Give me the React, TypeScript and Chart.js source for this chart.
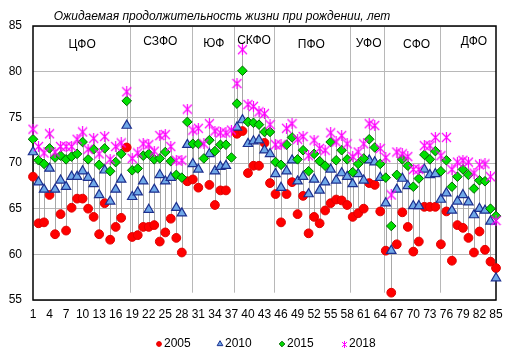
import React, { useEffect, useRef } from "react";
import { Chart, registerables } from "chart.js";

Chart.register(...registerables);

const FONT = 'Arial, "Liberation Sans", sans-serif';

const TITLE = "Ожидаемая продолжительность жизни при рождении, лет";
const CATEGORIES = Array.from({ length: 85 }, (_, i) => String(i + 1));
const X_TICK_STEP = 3;
const SERIES_NAMES = ["2005", "2010", "2015", "2018"];

const S2005 = [
  68.5, 63.4, 63.5, 66.5, 62.2, 64.4, 62.6, 65.1, 66.1, 66.1,
  65.0, 64.1, 62.2, 65.6, 61.6, 63.0, 64.0, 71.7, 61.9, 62.1,
  63.0, 63.0, 63.2, 61.4, 62.4, 63.9, 61.8, 60.2, 68.0, 68.2,
  67.3, null, 67.6, 65.4, 67.0, 67.0, null, 73.2, 73.5, 68.9,
  69.7, 69.7, 72.2, 67.8, 66.6, 63.5, 66.6, 67.9, 64.4, 66.4,
  62.3, 64.1, 63.4, 64.8, 65.6, 66.0, 65.9, 65.4, 64.1, 64.5,
  65.0, 67.8, 67.6, 64.7, 60.4, 55.8, 61.1, 64.6, 63.0, 60.3,
  61.4, 65.2, 65.2, 65.2, 61.1, 64.7, 59.3, 63.2, 62.9, 61.8,
  60.2, 62.5, 60.5, 59.2, 58.5,
];

const S2010 = [
  71.2, 67.9, 67.1, 69.4, 67.1, 68.1, 67.4, 68.5, 68.5, 69.1,
  68.4, 67.7, 66.5, 69.2, 65.8, 67.1, 68.2, 74.1, 66.3, 66.8,
  68.0, 64.9, 67.1, 68.7, 68.0, 68.4, 65.1, 64.5, 72.0, 69.9,
  69.3, null, 71.0, 69.1, 69.6, 69.7, null, 73.9, 74.7, 72.1,
  72.4, 72.5, 71.4, 71.0, 68.8, 67.3, 69.1, 70.3, 68.0, 68.5,
  66.6, 68.2, 67.0, 67.9, 69.3, 68.1, 68.9, 68.5, 67.7, 68.8,
  68.1, 70.3, 70.1, 68.4, 65.6, 60.4, 67.1, 68.3, 67.5, 65.3,
  65.3, 69.3, 68.7, 68.8, 66.0, 66.7, 64.8, 65.8, 66.5, 65.7,
  64.3, 65.0, 64.8, 63.6, 57.4,
];

const S2015 = [
  72.6, 70.3, 69.9, 71.6, 70.6, 70.8, 70.4, 70.7, 71.0, 72.3,
  70.4, 71.5, 69.8, 71.6, 69.1, 70.1, 71.0, 76.8, 69.2, 69.4,
  70.8, 71.0, 70.4, 70.5, 71.2, 70.2, 68.7, 68.4, 74.5, 72.1,
  72.1, 70.5, 72.5, 71.3, 72.0, 72.0, 70.6, 76.5, 80.1, 74.5,
  74.4, 74.2, 73.4, 73.4, 70.1, 69.8, 72.0, 72.8, 70.4, 71.4,
  69.1, 71.0, 70.2, 69.7, 72.3, 70.3, 71.4, 70.4, 69.0, 69.9,
  70.5, 72.6, 71.7, 69.9, 68.4, 63.1, 68.7, 70.4, 69.7, 67.4,
  68.3, 70.9, 70.4, 71.3, 69.1, 70.3, 67.4, 68.5, 69.3, 68.7,
  67.2, 68.1, 68.0, 65.0, 64.2,
];

const S2018 = [
  73.7, 71.8, 71.1, 73.2, 71.2, 71.8, 71.8, 71.8, 72.6, 73.4,
  71.5, 72.7, 71.0, 72.9, 70.4, 71.8, 72.2, 77.8, 70.5, 71.1,
  72.1, 72.0, 71.3, 73.0, 73.1, 71.8, 70.3, 70.3, 75.9, 73.6,
  73.8, 72.1, 74.3, 73.5, 73.3, 73.3, 73.6, 78.7, 82.4, 76.4,
  76.2, 75.6, 75.4, 74.2, 72.0, 72.0, 73.8, 74.3, 72.6, 72.9,
  70.8, 72.5, 71.6, 71.4, 73.3, 72.3, 73.0, 72.1, 70.7, 71.2,
  72.1, 74.3, 74.1, 71.6, 70.6, 66.5, 71.2, 71.0, 70.7, 69.3,
  69.3, 71.9, 71.9, 72.8, 70.8, 72.8, 69.3, 70.1, 70.3, 70.1,
  68.9, 69.8, 69.9, 68.5, 63.7,
];

const SERIES = [S2005, S2010, S2015, S2018];

const Y_MIN = 55;
const Y_MAX = 85;
const Y_STEP = 5;

const DISTRICTS = ["ЦФО", "СЗФО", "ЮФ", "СКФО", "ПФО", "УФО", "СФО", "ДФО"];
// label anchor: category number and value level
const DISTRICT_LABEL_AT = [9.9, 24.1, 33.8, 41.1, 51.5, 61.9, 70.6, 81.0];
const DISTRICT_LABEL_LEVEL = [82.9, 83.25, 83.1, 83.35, 82.9, 83.1, 83.0, 83.25];
// separators between districts, in category numbers
const DISTRICT_BOUNDARIES = [18.67, 29.85, 37.4, 44.8, 58.5, 64.6, 74.85];
const SEPARATOR_BOTTOM = 55.8;

// styles (kept apart from data)
const MARKER_KIND = ["circle", "triangle", "rectRot", "star"];
const MARKER_FILL = ["#ff0000", "#6fa8e8", "#00e000", "#ff00ff"];
const MARKER_STROKE = ["#e00000", "#1c2f8f", "#006400", "#ff00ff"];
const MARKER_RADIUS = [4.4, 5.4, 4.8, 5];
const LEGEND_RADIUS = [2.4, 3.3, 2.8, 0];
const LEGEND_X = [159, 220, 282, 344];
const LEGEND_Y = 344;
const GRID_COLOR = "#b8b8b8";
const HILO_COLOR = "#a8a8a8";

function makeStar(size: number, color: string, lw: number) {
  const c = document.createElement("canvas");
  c.width = size;
  c.height = size;
  const g = c.getContext("2d")!;
  g.strokeStyle = color;
  g.lineWidth = lw;
  g.beginPath();
  g.moveTo(size / 2, 0);
  g.lineTo(size / 2, size);
  g.moveTo(1, 1);
  g.lineTo(size - 1, size - 1);
  g.moveTo(size - 1, 1);
  g.lineTo(1, size - 1);
  g.stroke();
  return c;
}

function drawMarker(
  ctx: CanvasRenderingContext2D,
  kind: string,
  x: number,
  y: number,
  r: number,
  fill: string,
  stroke: string,
  img: HTMLCanvasElement
) {
  if (kind === "star") {
    ctx.drawImage(img, Math.round(x - img.width / 2), Math.round(y - img.height / 2));
    return;
  }
  ctx.beginPath();
  if (kind === "circle") {
    ctx.arc(x, y, r, 0, Math.PI * 2);
  } else if (kind === "triangle") {
    ctx.moveTo(x, y - r);
    ctx.lineTo(x + r * 0.866, y + r * 0.5);
    ctx.lineTo(x - r * 0.866, y + r * 0.5);
    ctx.closePath();
  } else {
    ctx.moveTo(x, y - r);
    ctx.lineTo(x + r, y);
    ctx.lineTo(x, y + r);
    ctx.lineTo(x - r, y);
    ctx.closePath();
  }
  ctx.fillStyle = fill;
  ctx.fill();
  ctx.strokeStyle = stroke;
  ctx.lineWidth = 1;
  ctx.stroke();
}

export default function App() {
  const ref = useRef<HTMLCanvasElement>(null);

  useEffect(() => {
    document.body.style.margin = "0";
    const canvas = ref.current!;
    const star = makeStar(11, "#ff00ff", 1.2);
    const starSmall = makeStar(7, "#ff00ff", 1);

    const decor = {
      id: "decor",
      beforeDatasetsDraw(chart: any) {
        const { ctx, chartArea, scales } = chart;
        const x = scales.x;
        const y = scales.y;
        ctx.save();
        // district separators
        ctx.strokeStyle = GRID_COLOR;
        ctx.lineWidth = 1;
        DISTRICT_BOUNDARIES.forEach((b) => {
          const px = Math.round(x.getPixelForValue(b - 1)) + 0.5;
          ctx.beginPath();
          ctx.moveTo(px, chartArea.top);
          ctx.lineTo(px, y.getPixelForValue(SEPARATOR_BOTTOM));
          ctx.stroke();
        });
        // high-low lines
        ctx.strokeStyle = HILO_COLOR;
        CATEGORIES.forEach((_, i) => {
          const vals = SERIES.map((s) => s[i]).filter(
            (v) => v !== null && v !== undefined
          ) as number[];
          if (vals.length < 2) return;
          const px = Math.round(x.getPixelForValue(i)) + 0.5;
          ctx.beginPath();
          ctx.moveTo(px, y.getPixelForValue(Math.max(...vals)));
          ctx.lineTo(px, y.getPixelForValue(Math.min(...vals)));
          ctx.stroke();
        });
        // plot box
        ctx.strokeStyle = "#000";
        ctx.lineWidth = 1.5;
        ctx.strokeRect(
          chartArea.left,
          chartArea.top,
          chartArea.right - chartArea.left,
          chartArea.bottom - chartArea.top
        );
        ctx.restore();
      },
      afterDraw(chart: any) {
        const { ctx, scales } = chart;
        const x = scales.x;
        const y = scales.y;
        ctx.save();
        ctx.fillStyle = "#000";
        ctx.textBaseline = "middle";
        ctx.textAlign = "center";
        ctx.font = `12px ${FONT}`;
        DISTRICTS.forEach((name, i) => {
          ctx.fillText(
            name,
            x.getPixelForValue(DISTRICT_LABEL_AT[i] - 1),
            y.getPixelForValue(DISTRICT_LABEL_LEVEL[i])
          );
        });
        ctx.font = `italic 12px ${FONT}`;
        ctx.fillText(TITLE, 222, 17);
        // legend
        ctx.font = `12px ${FONT}`;
        ctx.textAlign = "left";
        SERIES_NAMES.forEach((name, i) => {
          drawMarker(
            ctx,
            MARKER_KIND[i],
            LEGEND_X[i],
            LEGEND_Y,
            LEGEND_RADIUS[i],
            MARKER_FILL[i],
            MARKER_STROKE[i],
            starSmall
          );
          ctx.fillStyle = "#000";
          ctx.fillText(name, LEGEND_X[i] + 5, LEGEND_Y);
        });
        ctx.restore();
      },
    };

    const datasets = SERIES.map((data, i) => ({
      label: SERIES_NAMES[i],
      data,
      showLine: false,
      pointStyle: MARKER_KIND[i] === "star" ? star : MARKER_KIND[i],
      pointRadius: MARKER_RADIUS[i],
      pointBackgroundColor: MARKER_FILL[i],
      pointBorderColor: MARKER_STROKE[i],
      pointBorderWidth: i === 1 ? 1.2 : 1,
      backgroundColor: MARKER_FILL[i],
      borderColor: MARKER_STROKE[i],
      borderWidth: 1,
      clip: false,
      order: SERIES.length - 1 - i,
    }));

    const chart = new Chart(canvas, {
      type: "line",
      data: { labels: CATEGORIES, datasets: datasets as any },
      options: {
        responsive: false,
        animation: false,
        events: [],
        layout: { padding: { left: 8, right: 17, top: 26, bottom: 41.6 } },
        plugins: {
          title: { display: false },
          tooltip: { enabled: false },
          legend: { display: false },
        },
        scales: {
          x: {
            type: "category",
            offset: false,
            grid: { display: false, drawTicks: false },
            border: { display: false },
            afterFit: (s: any) => {
              s.height = 21.4;
            },
            ticks: {
              autoSkip: false,
              maxRotation: 0,
              minRotation: 0,
              padding: 7,
              color: "#000",
              font: { family: FONT, size: 12 },
              callback: (_v: any, i: number) =>
                i % X_TICK_STEP === 0 ? CATEGORIES[i] : "",
            },
          },
          y: {
            min: Y_MIN,
            max: Y_MAX,
            afterFit: (s: any) => {
              s.width = 25;
            },
            grid: { color: GRID_COLOR, drawTicks: false, lineWidth: 1 },
            border: { display: false },
            ticks: {
              stepSize: Y_STEP,
              padding: 11,
              color: "#000",
              font: { family: FONT, size: 12 },
            },
          },
        },
      } as any,
      plugins: [decor],
    });

    return () => chart.destroy();
  }, []);

  return (
    <div style={{ width: 513, height: 363, background: "#fff" }}>
      <canvas ref={ref} width={513} height={363} />
    </div>
  );
}
